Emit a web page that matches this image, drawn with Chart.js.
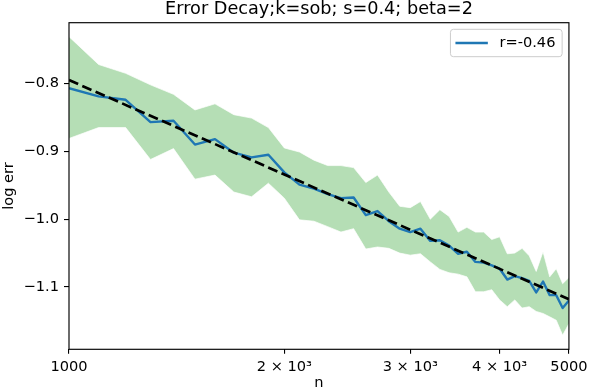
<!DOCTYPE html>
<html><head><meta charset="utf-8">
<script src="https://cdn.jsdelivr.net/npm/chart.js"></script>
<style>html,body{margin:0;padding:0;background:#fff}#wrap{width:592px;height:392px;position:relative}</style>
</head><body><div id="wrap"><canvas id="c"></canvas></div>
<script>
const nValues = [1000,1100,1200,1300,1400,1500,1600,1700,1800,1900,2000,2100,2200,2300,2400,2500,2600,2700,2800,2900,3000,3100,3200,3300,3400,3500,3600,3700,3800,3900,4000,4100,4200,4300,4400,4500,4600,4700,4800,4900,5000];
const meanLogErr = [-0.807,-0.819,-0.824,-0.857,-0.855,-0.890,-0.882,-0.902,-0.909,-0.905,-0.931,-0.949,-0.955,-0.963,-0.969,-0.968,-0.994,-0.988,-1.003,-1.014,-1.019,-1.014,-1.032,-1.031,-1.039,-1.051,-1.048,-1.063,-1.064,-1.068,-1.073,-1.089,-1.084,-1.087,-1.091,-1.108,-1.092,-1.112,-1.112,-1.131,-1.120];
const upperLogErr = [-0.731,-0.772,-0.785,-0.802,-0.816,-0.839,-0.830,-0.846,-0.851,-0.865,-0.895,-0.901,-0.913,-0.921,-0.921,-0.924,-0.946,-0.935,-0.960,-0.981,-0.983,-0.974,-1.000,-0.986,-0.996,-1.019,-1.012,-1.019,-1.019,-1.030,-1.026,-1.051,-1.050,-1.043,-1.054,-1.077,-1.048,-1.085,-1.073,-1.095,-1.086];
const lowerLogErr = [-0.881,-0.865,-0.865,-0.912,-0.896,-0.941,-0.935,-0.960,-0.967,-0.947,-0.969,-1.001,-1.003,-1.011,-1.019,-1.014,-1.044,-1.041,-1.043,-1.050,-1.053,-1.051,-1.063,-1.074,-1.079,-1.081,-1.085,-1.107,-1.107,-1.104,-1.119,-1.129,-1.119,-1.131,-1.129,-1.136,-1.139,-1.144,-1.149,-1.171,-1.154];
const fitN = [1000, 5000];
const fitLogErr = [-0.795, -1.118];
const xTickValues = [1000, 2000, 3000, 4000, 5000];
const xTickLabels = ['1000', '2 × 10³', '3 × 10³', '4 × 10³', '5000'];
const yTickValues = [-1.1, -1.0, -0.9, -0.8];
const yTickLabels = ['−1.1', '−1.0', '−0.9', '−0.8'];
const legendLabel = 'r=-0.46';
const titleText = 'Error Decay;k=sob; s=0.4; beta=2';
const xTitle = 'n';
const yTitle = 'log err';

const FONT = "'DejaVu Sans', sans-serif";
const TICK_SIZE = 14.6;
Chart.defaults.font.family = FONT;
Chart.defaults.color = '#000';

const pts = (xs, ys) => xs.map((x, i) => ({x: x, y: ys[i]}));

const framePlugin = {
  id: 'frame',
  afterDatasetsDraw(chart) {
    const {ctx, chartArea: a} = chart;
    ctx.save();
    ctx.strokeStyle = '#000';
    ctx.lineWidth = 1.15;
    ctx.strokeRect(a.left, a.top, a.right - a.left, a.bottom - a.top);
    ctx.restore();
  }
};

const legendPlugin = {
  id: 'boxLegend',
  afterDraw(chart) {
    const {ctx, chartArea: a} = chart;
    const ds = chart.data.datasets[1];
    ctx.save();
    ctx.font = TICK_SIZE + 'px ' + FONT;
    const tw = ctx.measureText(ds.label).width;
    const right = a.right - 6.8;
    const top = a.top + 6.6;
    const h = 27.4;
    const textRight = right - 6.7;
    const textLeft = textRight - tw;
    const lineRight = textLeft - 11.6;
    const lineLeft = lineRight - 32.4;
    const left = lineLeft - 5;
    const r = 3;
    ctx.beginPath();
    ctx.moveTo(left + r, top);
    ctx.lineTo(right - r, top);
    ctx.arcTo(right, top, right, top + r, r);
    ctx.lineTo(right, top + h - r);
    ctx.arcTo(right, top + h, right - r, top + h, r);
    ctx.lineTo(left + r, top + h);
    ctx.arcTo(left, top + h, left, top + h - r, r);
    ctx.lineTo(left, top + r);
    ctx.arcTo(left, top, left + r, top, r);
    ctx.closePath();
    ctx.fillStyle = 'rgba(255,255,255,0.8)';
    ctx.fill();
    ctx.strokeStyle = '#cccccc';
    ctx.lineWidth = 1;
    ctx.stroke();
    const cy = top + h / 2;
    ctx.beginPath();
    ctx.moveTo(lineLeft, cy);
    ctx.lineTo(lineRight, cy);
    ctx.strokeStyle = ds.borderColor;
    ctx.lineWidth = ds.borderWidth;
    ctx.stroke();
    ctx.fillStyle = '#000';
    ctx.textBaseline = 'middle';
    ctx.textAlign = 'left';
    ctx.fillText(ds.label, textLeft, cy + 0.5);
    ctx.restore();
  }
};

new Chart(document.getElementById('c'), {
  type: 'line',
  data: {
    datasets: [
      {label: 'fit', data: pts(fitN, fitLogErr), borderColor: '#000', borderWidth: 2.7, borderDash: [10, 4.5], pointRadius: 0, fill: false, tension: 0},
      {label: legendLabel, data: pts(nValues, meanLogErr), borderColor: '#1f77b4', borderWidth: 2.4, pointRadius: 0, fill: false, tension: 0, borderJoinStyle: 'round'},
      {label: 'upper', data: pts(nValues, upperLogErr), borderColor: 'rgba(255,255,255,0.7)', borderWidth: 1, backgroundColor: 'rgba(44,160,44,0.35)', pointRadius: 0, fill: '+1', tension: 0},
      {label: 'lower', data: pts(nValues, lowerLogErr), borderColor: 'rgba(255,255,255,0.7)', borderWidth: 1, pointRadius: 0, fill: false, tension: 0}
    ]
  },
  options: {
    responsive: true,
    maintainAspectRatio: false,
    animation: false,
    devicePixelRatio: 1,
    layout: {padding: {left: 0, right: 19.5, top: 0, bottom: 0}},
    plugins: {
      legend: {display: false},
      tooltip: {enabled: false},
      filler: {drawTime: 'beforeDatasetsDraw'},
      title: {display: true, fullSize: false, text: titleText, color: '#000', font: {size: 17.7, weight: 'normal', family: FONT, lineHeight: 1.0}, padding: {top: 1, bottom: 4}}
    },
    scales: {
      x: {
        type: 'logarithmic', min: 1000, max: 5000,
        afterBuildTicks: s => { s.ticks = xTickValues.map(v => ({value: v})); },
        afterFit: s => { s.height = 42.7; },
        ticks: {autoSkip: false, maxRotation: 0, padding: 4.5, font: {size: TICK_SIZE, family: FONT},
          callback: (v) => { const i = xTickValues.indexOf(v); return i >= 0 ? xTickLabels[i] : ''; }},
        grid: {display: true, drawOnChartArea: false, drawTicks: true, tickLength: 4.5, color: '#000', lineWidth: 1.1},
        border: {display: false},
        title: {display: true, text: xTitle, color: '#000', font: {size: TICK_SIZE, family: FONT}, padding: {top: -3.5, bottom: 0}}
      },
      y: {
        type: 'linear', min: -1.1918, max: -0.7104,
        afterBuildTicks: s => { s.ticks = yTickValues.map(v => ({value: v})); },
        afterFit: s => { s.width = 69; },
        ticks: {autoSkip: false, padding: 5, font: {size: TICK_SIZE, family: FONT},
          callback: (v) => { const i = yTickValues.findIndex(t => Math.abs(t - v) < 1e-9); return i >= 0 ? yTickLabels[i] : ''; }},
        grid: {display: true, drawOnChartArea: false, drawTicks: true, tickLength: 5, color: '#000', lineWidth: 1.1},
        border: {display: false},
        title: {display: true, text: yTitle, color: '#000', font: {size: TICK_SIZE, family: FONT}, padding: {top: 0, bottom: 0}}
      }
    }
  },
  plugins: [framePlugin, legendPlugin]
});
</script>
</body></html>
